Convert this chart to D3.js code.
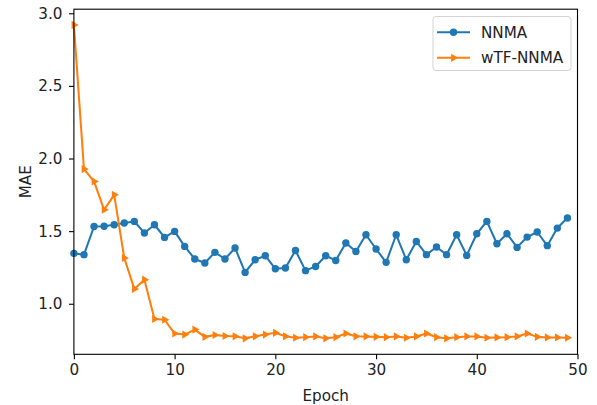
<!DOCTYPE html>
<html><head><meta charset="utf-8">
<script src="https://cdn.jsdelivr.net/npm/d3@7"></script>
<style>
html,body{margin:0;padding:0;background:#fff;}
svg{display:block;font-family:"DejaVu Sans",sans-serif;}
</style></head>
<body><svg id="c" width="597" height="405"></svg>
<script>
const epochs = d3.range(0, 50);
const nnma = [1.347,1.338,1.532,1.534,1.544,1.556,1.567,1.487,1.544,1.457,
  1.498,1.395,1.308,1.281,1.354,1.308,1.384,1.216,1.303,1.331,
  1.241,1.246,1.367,1.228,1.257,1.331,1.298,1.418,1.360,1.475,
  1.377,1.285,1.475,1.303,1.429,1.338,1.391,1.338,1.475,1.333,
  1.482,1.567,1.413,1.482,1.388,1.459,1.494,1.400,1.521,1.590];
const wtf = [2.92,1.927,1.842,1.647,1.750,1.315,1.102,1.166,0.895,0.890,
  0.795,0.788,0.822,0.772,0.785,0.778,0.776,0.762,0.776,0.788,
  0.800,0.776,0.766,0.770,0.775,0.762,0.770,0.795,0.776,0.775,
  0.772,0.770,0.775,0.766,0.775,0.795,0.770,0.762,0.770,0.775,
  0.775,0.766,0.768,0.770,0.775,0.795,0.772,0.768,0.768,0.766];
const xTicks = [0,10,20,30,40,50];
const yTicks = [1.0,1.5,2.0,2.5,3.0];
const seriesNames = ["NNMA","wTF-NNMA"];
const colors = ["#1f77b4","#ff7f0e"];

const L=73.9, R=577.5, T=9.2, B=354.3;
const svg = d3.select("#c");
const x = d3.scaleLinear().domain([0,50]).range([L,R]);
const y = d3.scaleLinear().domain([0.652,3.028]).range([B,T]);
const fs = 15.2;

svg.append("defs").append("clipPath").attr("id","clip")
  .append("rect").attr("x",L-5).attr("y",T).attr("width",R-L+5).attr("height",B-T);

const line = d3.line().x((d,i)=>x(epochs[i])).y(d=>y(d));
const g = svg.append("g").attr("clip-path","url(#clip)");

const tri = (cx,cy,s)=>`M${cx+s},${cy} L${cx-s*0.5},${cy-s*0.87} L${cx-s*0.5},${cy+s*0.87} Z`;

function drawSeries(data, col, marker, parent){
  parent.append("path").attr("d",line(data)).attr("fill","none")
    .attr("stroke",col).attr("stroke-width",2.05).attr("stroke-linejoin","round").attr("stroke-linecap","square");
  if(marker==="o"){
    parent.selectAll(null).data(data).enter().append("circle")
      .attr("cx",(d,i)=>x(epochs[i])).attr("cy",d=>y(d)).attr("r",3.7).attr("fill",col);
  } else {
    parent.selectAll(null).data(data).enter().append("path")
      .attr("d",(d,i)=>tri(x(epochs[i]),y(d),4.7)).attr("fill",col);
  }
}
drawSeries(nnma, colors[0], "o", g);
drawSeries(wtf, colors[1], ">", g);

// axes
const xAxis = d3.axisBottom(x).tickValues(xTicks).tickSize(4.9).tickPadding(5).tickFormat(d3.format("d"));
const yAxis = d3.axisLeft(y).tickValues(yTicks).tickSize(4.9).tickPadding(6.5).tickFormat(d3.format(".1f"));
const gx = svg.append("g").attr("transform",`translate(0,${B})`).call(xAxis);
const gy = svg.append("g").attr("transform",`translate(${L},0)`).call(yAxis);
[gx,gy].forEach(a=>{
  a.select(".domain").remove();
  a.selectAll(".tick line").attr("stroke","#000").attr("stroke-width",1.1);
  a.selectAll(".tick text").attr("fill","#222").attr("font-size",fs).attr("font-family","DejaVu Sans");
});
// frame
svg.append("rect").attr("x",L).attr("y",T).attr("width",R-L).attr("height",B-T)
  .attr("fill","none").attr("stroke","#000").attr("stroke-width",1.1);

svg.append("text").attr("x",(L+R)/2).attr("y",400.5).attr("text-anchor","middle")
  .attr("font-size",fs).attr("fill","#222").text("Epoch");
svg.append("text").attr("transform",`translate(30.5,${(T+B)/2}) rotate(-90)`).attr("text-anchor","middle")
  .attr("font-size",fs).attr("fill","#222").text("MAE");

// legend
const lg = svg.append("g");
const lx=433, ly=16.5, lw=138, lh=54;
lg.append("rect").attr("x",lx).attr("y",ly).attr("width",lw).attr("height",lh).attr("rx",3)
  .attr("fill","rgba(255,255,255,0.8)").attr("stroke","#d3d3d3").attr("stroke-width",1);
const rowsY=[32.3,57.8];
seriesNames.forEach((n,i)=>{
  const yy=rowsY[i];
  lg.append("line").attr("x1",437).attr("x2",470).attr("y1",yy).attr("y2",yy)
    .attr("stroke",colors[i]).attr("stroke-width",2.05);
  if(i===0) lg.append("circle").attr("cx",453.5).attr("cy",yy).attr("r",3.7).attr("fill",colors[i]);
  else lg.append("path").attr("d",tri(453.5,yy,4.7)).attr("fill",colors[i]);
  lg.append("text").attr("x",481).attr("y",yy).attr("dy","0.36em").attr("font-size",fs)
    .attr("fill","#222").text(n);
});
</script></body></html>
